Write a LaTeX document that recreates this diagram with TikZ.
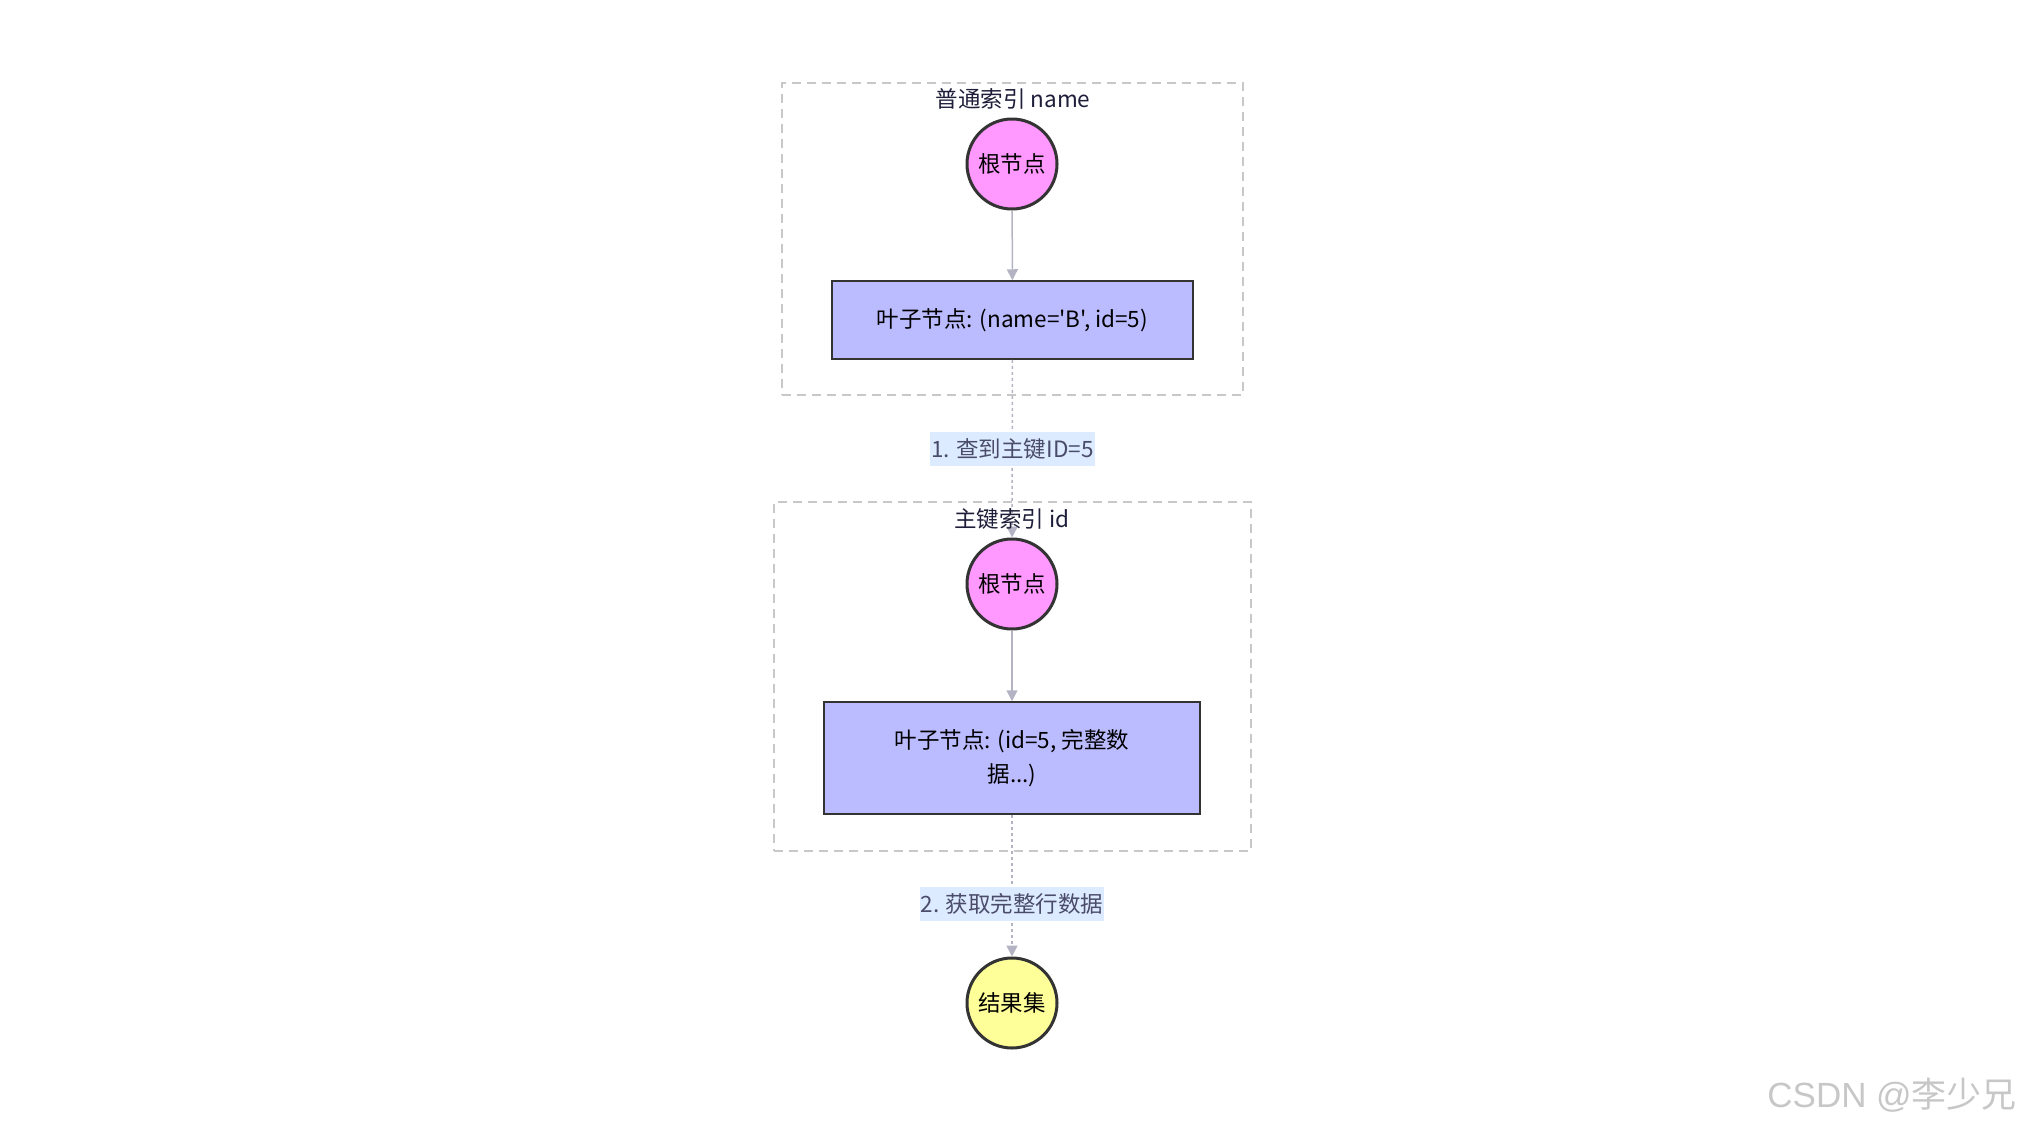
\documentclass[tikz,border=0pt]{standalone}
\usepackage{fontspec}
\setmainfont{Noto Sans CJK SC}[Ligatures=TeXOff]
\newfontfamily\wmlatin{Liberation Sans}
\usetikzlibrary{arrows.meta}
\definecolor{pinkfill}{HTML}{FF99FF}
\definecolor{bluefill}{HTML}{BBBBFF}
\definecolor{yellowfill}{HTML}{FFFF99}
\definecolor{strokec}{HTML}{333333}
\definecolor{edgec}{HTML}{B3B3C3}
\definecolor{clusterc}{HTML}{C8C8C8}
\definecolor{labelbg}{HTML}{DCEBFF}
\definecolor{labeltext}{HTML}{4A4C6A}
\definecolor{titlec}{HTML}{1E1E3A}
\tikzset{
  x=1pt, y=-1pt,
  txt/.style={font=\fontsize{22.5}{34}\selectfont, text=black},
  roundnode/.style={circle, draw=strokec, line width=3pt, minimum size=90pt, inner sep=0pt, txt},
  leaf/.style={rectangle, draw=strokec, fill=bluefill, line width=1.5pt, inner sep=0pt, align=center, txt},
  cluster/.style={rectangle, draw=clusterc, line width=1.5pt, dash pattern=on 9pt off 6pt, inner sep=0pt},
  ctitle/.style={font=\fontsize{22.5}{26}\selectfont, text=titlec, inner sep=0pt},
  solidedge/.style={draw=edgec, line width=1.5pt, -{Triangle[length=11pt,width=11pt]}},
  dotedge/.style={draw=edgec, line width=1.5pt, dash pattern=on 3pt off 3pt, -{Triangle[length=11pt,width=11pt]}},
  elabel/.style={fill=labelbg, text=labeltext, font=\fontsize{22.5}{26}\selectfont, inner xsep=1pt, minimum height=34pt, inner ysep=0pt},
}
\begin{document}
\begin{tikzpicture}
\useasboundingbox (0,0) rectangle (2024,1130);
% clusters
\node[cluster, minimum width=461pt, minimum height=312pt] (k1) at (1012.5,239) {};
\node[cluster, minimum width=477pt, minimum height=349pt] (k2) at (1012.5,676.5) {};
% nodes
\node[roundnode, fill=pinkfill] (c1) at (1012,164) {根节点};
\node[leaf, minimum width=361pt, minimum height=78pt] (r1) at (1012.5,320) {叶子节点: (name='B', id=5)};
\node[roundnode, fill=pinkfill] (c2) at (1012,584) {根节点};
\node[leaf, minimum width=376pt, minimum height=112pt] (r2) at (1012,758) {叶子节点: (id=5, 完整数\\据...)};
\node[roundnode, fill=yellowfill] (c3) at (1012,1003) {结果集};
% edges
\draw[solidedge] (c1) -- (r1);
\draw[solidedge] (c2) -- (r2);
\draw[dotedge] (r1) -- node[elabel, pos=0.5] (l1) {1. 查到主键ID=5} (c2);
\draw[dotedge] (r2) -- node[elabel, pos=0.63] (l2) {2. 获取完整行数据} (c3);
% cluster titles
\node[ctitle] (t1) at (1013,99) {普通索引 name};
\node[ctitle] (t2) at (1012,519) {主键索引 id};
% watermark
\node[anchor=east, text=black!22, font=\fontsize{35}{38}\selectfont, inner sep=0pt] (wm) at (2017,1095) {{\wmlatin CSDN @}李少兄};
\end{tikzpicture}
\end{document}
